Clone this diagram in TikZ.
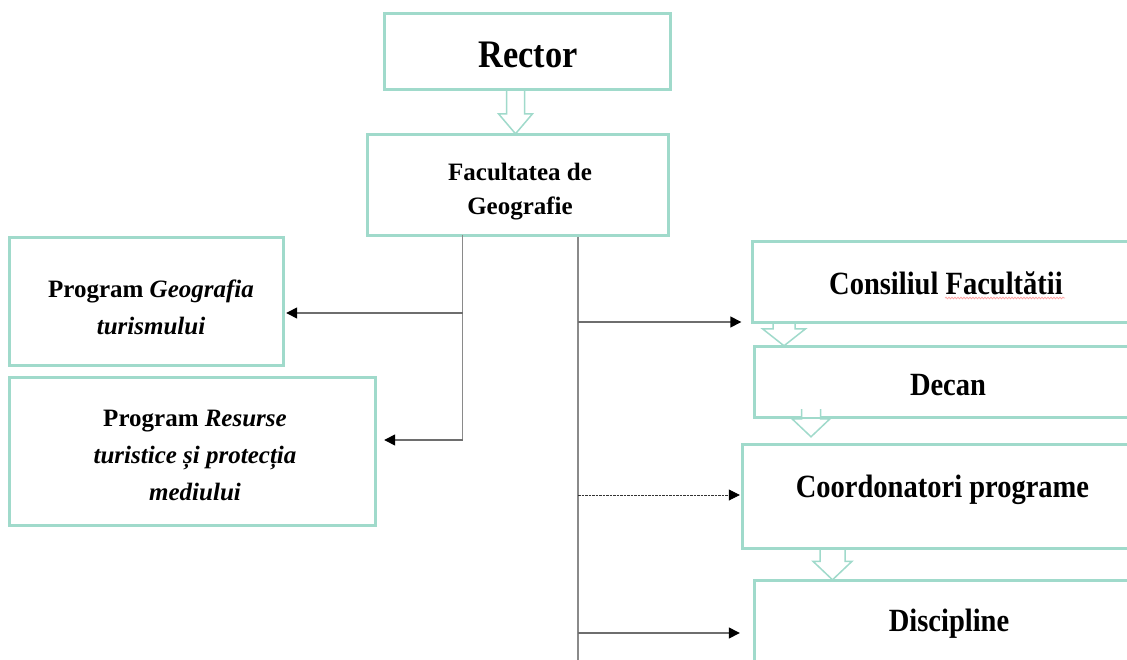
\documentclass[tikz,border=0pt]{standalone}
\usepackage{fontspec}
\setmainfont{Liberation Serif}
\newfontfamily\tallserif[FakeStretch=0.88]{Liberation Serif}
\usetikzlibrary{arrows.meta,calc,decorations.pathmorphing}
\definecolor{boxteal}{HTML}{A0DACB}
\definecolor{trunkgray}{HTML}{8A8A8A}
\definecolor{conngray}{HTML}{6E6E6E}
% #1 from node, #2 to node, #3 x offset, #4 shaft half, #5 head half, #6 head length, #7 start above #1.south, #8 tip above #2.north
\newcommand\holarrow[8]{%
  \draw[hollow] let \p1=($(#1.south)+(#3pt,#7pt)$), \p2=($(#2.north)+(0,#8pt)$) in
    (\x1-#4pt,\y1) -- (\x1-#4pt,\y2+#6pt) -- (\x1-#5pt,\y2+#6pt) -- (\x1,\y2)
    -- (\x1+#5pt,\y2+#6pt) -- (\x1+#4pt,\y2+#6pt) -- (\x1+#4pt,\y1);}
\begin{document}
\begin{tikzpicture}[x=1pt,y=-1pt,
  box/.style={draw=boxteal, line width=2.4pt, inner sep=0pt},
  hollow/.style={draw=boxteal, line width=1.5pt, fill=white, line join=miter},
  trunk/.style={draw=trunkgray, line width=1.8pt},
  conn/.style={draw=conngray, line width=1.4pt, -{Triangle[length=11pt,width=11pt,color=black]}},
  dconn/.style={conn, draw=black!80, line width=0.8pt, dash pattern=on 2.5pt off 1pt},
  txtL/.style={font=\bfseries\fontsize{25}{37}\selectfont, align=center, inner sep=0pt},
  txtF/.style={font=\bfseries\fontsize{25}{34}\selectfont, align=center, inner sep=0pt},
  txtR/.style={font=\tallserif\bfseries\fontsize{32.4}{38}\selectfont, inner sep=0pt},
]
\useasboundingbox (0,0) rectangle (1127,660);
\clip (0,0) rectangle (1127,660);

% boxes (positions only)
\path
  node[box, minimum width=285pt, minimum height=75pt] (rector) at (527.5,51.5) {}
  node[box, minimum width=300pt, minimum height=100pt] (fac) at (518,185) {}
  node[box, minimum width=273pt, minimum height=127pt] (geo) at (146.5,301.5) {}
  node[box, minimum width=365pt, minimum height=147pt] (res) at (192.5,451.5) {}
  node[box, minimum width=387pt, minimum height=80pt] (cons) at (946.5,282) {}
  node[box, minimum width=385pt, minimum height=70pt] (decan) at (947.5,382) {}
  node[box, minimum width=397pt, minimum height=103pt] (coord) at (941.5,496.5) {}
  node[box, minimum width=385pt, minimum height=84pt] (disc) at (947.5,623) {};

% hollow arrows (drawn first, box borders redrawn on top)
\holarrow{rector}{fac}{-12}{9}{17}{20}{0}{0}
\holarrow{cons}{decan}{-162.5}{11}{21.5}{17}{0}{0}
\holarrow{decan}{coord}{-136.5}{9.5}{19}{18}{9}{7}
\holarrow{coord}{disc}{-109}{12.5}{19.5}{18.5}{0}{0}

\foreach \n in {rector,fac,geo,res,cons,decan,coord,disc}
  \draw[draw=boxteal, line width=2.4pt] (\n.north west) rectangle (\n.south east);

% texts
\node[inner sep=0pt, font=\tallserif\bfseries\fontsize{39}{39}\selectfont] (rectorT) at (528,55) {Rector};
\node[txtF] (facT) at (520,192) {Facultatea de\\Geografie};
\node[txtL] (geoT) at (151,307.5) {Program \textit{Geografia}\\\textit{turismului}};
\node[txtL] (resT) at (195,455.5) {Program \textit{Resurse}\\\textit{turistice și protecția}\\\textit{mediului}};
\node[txtR] (consT) at (946,283) {Consiliul Facultătii};
\node[txtR] (decanT) at (948,385) {Decan};
\node[txtR] (coordT) at (942.5,490) {Coordonatori programe};
\node[txtR] (discT) at (949,624) {Discipline};
\draw[red!35, line width=0.8pt, decorate, decoration={snake, amplitude=0.8pt, segment length=3pt}]
  (945,298) -- (1065,298);

% connectors
\coordinate (L0) at (462.5,235);
\coordinate (L1) at (462.5,313);
\coordinate (L2) at (462.5,440);
\coordinate (R0) at (578,237);
\coordinate (R1) at (578,322);
\coordinate (R2) at (578,495);
\coordinate (R3) at (578,633);
\coordinate (R4) at (578,665);
\draw[trunk] (L0) -- (L2);
\draw[trunk] (R0) -- (R4);
\draw[conn] (L1) -- ($(geo.east |- L1)+(2,0)$);
\draw[conn] (L2) -- ($(res.east |- L2)+(8,0)$);
\draw[conn] (R1) -- ($(cons.west |- R1)+(-10.5,0)$);
\draw[dconn] (R2) -- ($(coord.west |- R2)+(-2,0)$);
\draw[conn] (R3) -- ($(disc.west |- R3)+(-14,0)$);
\end{tikzpicture}
\end{document}
